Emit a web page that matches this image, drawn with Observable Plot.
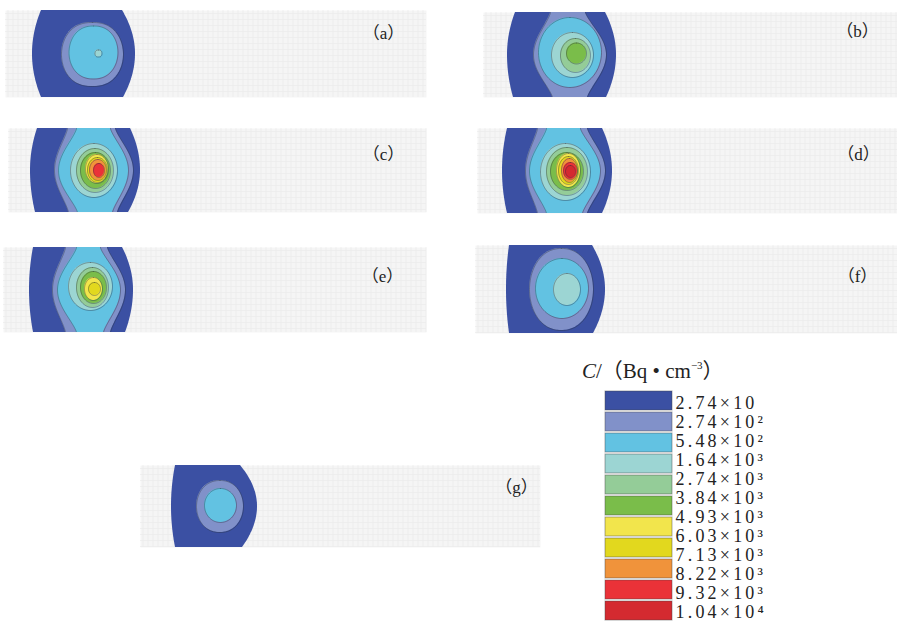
<!DOCTYPE html>
<html><head><meta charset="utf-8">
<script src="https://cdn.jsdelivr.net/npm/d3@7"></script>
<script src="https://cdn.jsdelivr.net/npm/@observablehq/plot@0.6"></script>
<style>
html,body{margin:0;padding:0;background:#fff;}
#fig{position:relative;width:897px;height:622px;overflow:hidden;background:#fff;}
.box{position:absolute;}
#ltitle{position:absolute;left:582px;top:361px;font-family:'Liberation Serif','Times New Roman','Noto Sans CJK SC',serif;font-size:21px;line-height:1;color:#222;white-space:nowrap;}
#ltitle sup{font-size:11px;vertical-align:0;position:relative;top:-9px;}
</style></head><body>
<div id="fig"><div id="ltitle"><i>C</i>/（Bq • cm<sup>−3</sup>）</div></div>
<script>
// ---- legend (contour levels, C / (Bq·cm^-3)) ----
const levelLabels = ["2.74×10","2.74×10²","5.48×10²","1.64×10³","2.74×10³","3.84×10³","4.93×10³","6.03×10³","7.13×10³","8.22×10³","9.32×10³","1.04×10⁴"];
const levelColors = ["#3b50a3","#8191c9","#62c2e2","#9cd5d3","#94cc98","#7abd4a","#f2e54c","#e2d81e","#f0933b","#ea3238","#d42a30"];
const levels = d3.range(levelColors.length);
const panelNames = ["（a）","（b）","（c）","（d）","（e）","（f）","（g）"];

// ---- contour shapes per panel (panel-local units) ----
// band: region spanning the whole panel height, edges at top (tl,tr), middle (ml,mr), bottom (bl,br)
// ell: closed contour, centre (cx,cy), half-axes (rx,ry), squareness p
const shapesA = [
  {lvl:0, kind:"band", tl:36, tr:117, ml:27, mr:130, bl:36, br:118},
  {lvl:1, kind:"ell", cx:87, cy:44, rx:31, ry:32, p:2.4},
  {lvl:2, kind:"ell", cx:88, cy:42, rx:24.5, ry:26.5, p:2.3},
  {lvl:3, kind:"ell", cx:93, cy:43, rx:3.5, ry:3.5, p:3}
];
const shapesB = [
  {lvl:0, kind:"band", tl:32, tr:122, ml:24, mr:133, bl:30, br:123},
  {lvl:1, kind:"band", neck:true, tl:67, tr:102, ml:50, mr:123, bl:69, br:104},
  {lvl:2, kind:"ell", cx:86.5, cy:40, rx:31.5, ry:35},
  {lvl:3, kind:"ell", cx:89, cy:42.5, rx:21, ry:22.5},
  {lvl:4, kind:"ell", cx:92, cy:43, rx:15, ry:17},
  {lvl:5, kind:"ell", cx:93, cy:41, rx:10, ry:10.5}
];
const shapesC = [
  {lvl:0, kind:"band", tl:29, tr:122, ml:22, mr:132, bl:27, br:120},
  {lvl:1, kind:"band", neck:true, tl:59, tr:107, ml:46, mr:125, bl:60, br:109},
  {lvl:2, kind:"band", neck:true, tl:68, tr:102, ml:50, mr:120, bl:69, br:104},
  {lvl:3, kind:"ell", cx:85.5, cy:42, rx:23.5, ry:27},
  {lvl:4, kind:"ell", cx:86.5, cy:42, rx:18.5, ry:22},
  {lvl:5, kind:"ell", cx:87, cy:42, rx:15, ry:18},
  {lvl:6, kind:"ell", cx:88.5, cy:40.5, rx:11.5, ry:14.5},
  {lvl:7, kind:"ell", cx:89, cy:41.5, rx:10, ry:12.5},
  {lvl:8, kind:"ell", cx:89.5, cy:41.5, rx:8.5, ry:10.5},
  {lvl:9, kind:"ell", cx:90.5, cy:42, rx:5.5, ry:7}
];
const shapesD = [
  {lvl:0, kind:"band", tl:30, tr:125, ml:25, mr:135, bl:30, br:125},
  {lvl:1, kind:"band", neck:true, tl:60, tr:110, ml:48, mr:128, bl:60, br:110},
  {lvl:2, kind:"band", neck:true, tl:69, tr:103, ml:52, mr:123, bl:69, br:105},
  {lvl:3, kind:"ell", cx:88, cy:43.5, rx:25, ry:28.5},
  {lvl:4, kind:"ell", cx:89.5, cy:43, rx:20.5, ry:24},
  {lvl:5, kind:"ell", cx:89.5, cy:43, rx:16.5, ry:19},
  {lvl:6, kind:"ell", cx:91, cy:42, rx:12, ry:17},
  {lvl:7, kind:"ell", cx:91, cy:42, rx:10, ry:14},
  {lvl:8, kind:"ell", cx:92, cy:42, rx:8, ry:12},
  {lvl:9, kind:"ell", cx:93, cy:42.5, rx:7, ry:8.5},
  {lvl:10, kind:"ell", cx:93, cy:43, rx:5, ry:6}
];
const shapesE = [
  {lvl:0, kind:"band", tl:30, tr:119, ml:26, mr:130, bl:30, br:122},
  {lvl:1, kind:"band", neck:true, tl:62, tr:104, ml:49, mr:122, bl:62, br:107},
  {lvl:2, kind:"band", neck:true, tl:73, tr:97, ml:54, mr:117, bl:73, br:100},
  {lvl:3, kind:"ell", cx:87, cy:39, rx:22, ry:24},
  {lvl:4, kind:"ell", cx:89, cy:40, rx:16, ry:20},
  {lvl:5, kind:"ell", cx:90, cy:40, rx:13, ry:16},
  {lvl:6, kind:"ell", cx:90, cy:41.5, rx:9, ry:11.5},
  {lvl:7, kind:"ell", cx:91, cy:41.5, rx:6, ry:6.5}
];
const shapesF = [
  {lvl:0, kind:"band", tl:34, tr:117, ml:31, mr:130, bl:34, br:118},
  {lvl:1, kind:"ell", cx:86, cy:44, rx:32, ry:41, p:2.2},
  {lvl:2, kind:"ell", cx:86.5, cy:43, rx:26.5, ry:30},
  {lvl:3, kind:"ell", cx:91.5, cy:44, rx:13.5, ry:16}
];
const shapesG = [
  {lvl:0, kind:"band", tl:35, tr:100, ml:31, mr:117, bl:35, br:102},
  {lvl:1, kind:"ell", cx:79.5, cy:41, rx:23.5, ry:26, p:2.2},
  {lvl:2, kind:"ell", cx:80, cy:40, rx:16, ry:17}
];
const panelShapes = [shapesA, shapesB, shapesC, shapesD, shapesE, shapesF, shapesG];

// ---- layout (pixels) ----
const panelLayout = [
  {left:5,   top:10,  w:421, h:87, labR:43, labY:23},
  {left:483, top:12,  w:414, h:85, labR:40, labY:19},
  {left:8,   top:128, w:418, h:84, labR:43, labY:26},
  {left:477, top:128, w:420, h:85, labR:39, labY:26},
  {left:3,   top:247, w:423, h:85, labR:44, labY:29},
  {left:475, top:245, w:422, h:88, labR:40, labY:31},
  {left:140, top:465, w:400, h:82, labR:24, labY:22}
];

const serif = "'Liberation Serif','Times New Roman','Noto Sans CJK SC',serif";
const colorScale = {type:"ordinal", domain: levels, range: levelColors};

function fillPoints(s, h) {
  const pts = [];
  if (s.kind === "band") {
    const my = h / 2;
    const f = s.neck ? (t => Math.pow(Math.sin(Math.PI * t / 2), 1.3)) : (t => 1 - (1 - t) * (1 - t));
    for (let i = 0; i <= 84; i++) {
      const y = h * i / 84;
      if (y <= my) { const a = f(y / my); pts.push({y, x1: s.tl + (s.ml - s.tl) * a, x2: s.tr + (s.mr - s.tr) * a}); }
      else { const a = f((h - y) / (h - my)); pts.push({y, x1: s.bl + (s.ml - s.bl) * a, x2: s.br + (s.mr - s.br) * a}); }
    }
  } else {
    const e = 2 / (s.p || 2);
    for (let i = 0; i <= 72; i++) {
      const th = -Math.PI / 2 + Math.PI * i / 72;
      const hw = s.rx * Math.pow(Math.abs(Math.cos(th)), e);
      pts.push({y: s.cy + s.ry * Math.sin(th), x1: s.cx - hw, x2: s.cx + hw});
    }
  }
  return pts;
}
function outlinePoints(s, pts) {
  if (s.kind === "band") {
    return [...pts.map(d => ({x: d.x1, y: d.y, side: "L"})), ...pts.map(d => ({x: d.x2, y: d.y, side: "R"}))];
  }
  const ring = [...pts.map(d => ({x: d.x1, y: d.y})), ...pts.slice().reverse().map(d => ({x: d.x2, y: d.y}))];
  ring.push(ring[0]);
  return ring.map(d => ({...d, side: "O"}));
}

const fig = document.getElementById("fig");

panelLayout.forEach((L, i) => {
  const marks = [
    Plot.frame({fill: "#f5f5f5"}),
    Plot.ruleX(d3.range(2.5, L.w, 5), {stroke: "#ebebeb", strokeWidth: 0.7}),
    Plot.ruleY(d3.range(3, L.h, 6), {stroke: "#ebebeb", strokeWidth: 0.7})
  ];
  for (const s of panelShapes[i]) {
    const pts = fillPoints(s, L.h);
    marks.push(Plot.areaX(pts, {y: "y", x1: "x1", x2: "x2", fill: () => s.lvl, clip: true}));
    if (s.lvl > 0) {
      marks.push(Plot.line(outlinePoints(s, pts), {x: "x", y: "y", z: "side", stroke: "#2c3444", strokeWidth: 0.7, strokeOpacity: 0.6, clip: true}));
    }
  }
  marks.push(Plot.text([panelNames[i]], {
    text: d => d, frameAnchor: "top-right", dx: -L.labR, dy: L.labY,
    textAnchor: "middle", lineAnchor: "middle", fontSize: 17, fontFamily: serif, fill: "#222"
  }));
  const svg = Plot.plot({
    width: L.w, height: L.h, margin: 0,
    x: {domain: [0, L.w], axis: null},
    y: {domain: [0, L.h], reverse: true, axis: null},
    color: colorScale,
    style: {background: "transparent", maxWidth: "none", overflow: "visible"},
    marks
  });
  const div = document.createElement("div");
  div.className = "box";
  div.style.cssText = `left:${L.left}px;top:${L.top}px;width:${L.w}px;height:${L.h}px;`;
  div.appendChild(svg);
  fig.appendChild(div);
});

// legend colour boxes
{
  const svg = Plot.plot({
    width: 67, height: 233, margin: 0,
    x: {axis: null},
    y: {type: "band", domain: levels, paddingInner: 0.1, paddingOuter: 0.02, axis: null},
    color: colorScale,
    style: {background: "transparent", maxWidth: "none", overflow: "visible"},
    marks: [
      Plot.cell(levels, {y: d => d, fill: d => d, stroke: "#444", strokeOpacity: 0.45, strokeWidth: 1})
    ]
  });
  const div = document.createElement("div");
  div.className = "box";
  div.style.cssText = "left:605px;top:389px;width:67px;height:233px;";
  div.appendChild(svg);
  fig.appendChild(div);
}
// legend value labels (at the level boundaries)
{
  const svg = Plot.plot({
    width: 130, height: 242, marginTop: 20, marginBottom: 7, marginLeft: 0, marginRight: 0,
    x: {axis: null},
    y: {type: "point", domain: levelLabels, padding: 0, axis: null},
    style: {background: "transparent", maxWidth: "none", overflow: "visible", letterSpacing: "3.2px"},
    marks: [
      Plot.text(levelLabels, {y: d => d, text: d => d, frameAnchor: "left", textAnchor: "start",
        fontSize: 18, fontFamily: serif, fill: "#222"})
    ]
  });
  const div = document.createElement("div");
  div.className = "box";
  div.style.cssText = "left:675px;top:380px;width:130px;height:242px;";
  div.appendChild(svg);
  fig.appendChild(div);
}
</script>
</body></html>
